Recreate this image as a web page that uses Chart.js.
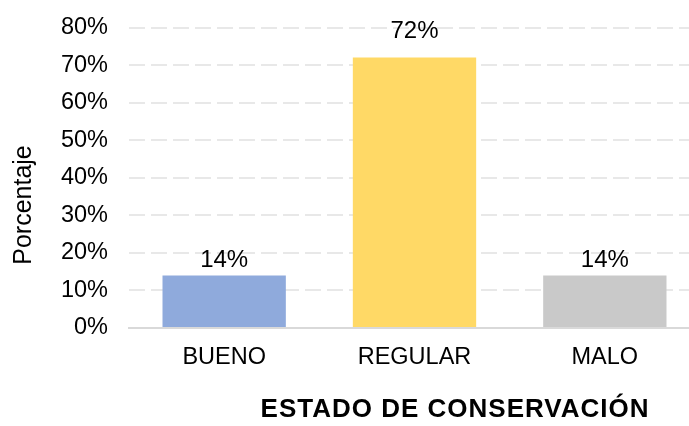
<!DOCTYPE html>
<html>
<head>
<meta charset="utf-8">
<script src="https://cdn.jsdelivr.net/npm/chart.js@4.4.1/dist/chart.umd.min.js"></script>
<style>
  html, body { margin: 0; padding: 0; background: #fff; overflow: hidden; }
  #wrap { width: 700px; height: 426px; position: relative; }
</style>
</head>
<body>
<div id="wrap"><canvas id="estadoChart"></canvas></div>
<script>
// Data
const categories = ["BUENO", "REGULAR", "MALO"]
const percentages = [14, 72, 14]
const barColors = ["#8FAADC", "#FFD966", "#C9C9C9"]
const yTicks = [0, 10, 20, 30, 40, 50, 60, 70, 80]

const yTitle = "Porcentaje"
const xTitle = "ESTADO DE CONSERVACIÓN"

const FONT = "Arial, 'Liberation Sans', sans-serif"

// Value labels above each bar and the two axis titles
const textPlugin = {
  id: "textPlugin",
  afterDatasetsDraw(chart) {
    const ctx = chart.ctx
    const meta = chart.getDatasetMeta(0)
    ctx.save()
    ctx.fillStyle = "#000"
    ctx.font = "24px " + FONT
    ctx.textAlign = "center"
    ctx.textBaseline = "alphabetic"
    meta.data.forEach((bar, i) => {
      // the tall bar's label sits a bit higher, like in the original
      const gap = percentages[i] > 50 ? 20 : 8
      ctx.fillText(percentages[i] + "%", bar.x, bar.y - gap)
    })
    ctx.restore()
  },
  afterDraw(chart) {
    const ctx = chart.ctx
    ctx.save()
    ctx.fillStyle = "#000"

    // y title, rotated
    ctx.font = "25px " + FONT
    ctx.textAlign = "center"
    ctx.textBaseline = "alphabetic"
    ctx.translate(31, 205)
    ctx.rotate(-Math.PI / 2)
    ctx.fillText(yTitle, 0, 0)
    ctx.setTransform(1, 0, 0, 1, 0, 0)

    // x title, bold
    ctx.font = "bold 26px " + FONT
    ctx.letterSpacing = "1px"
    ctx.textAlign = "center"
    ctx.fillText(xTitle, 455, 417)
    ctx.restore()
  },
}

const ctx = document.getElementById("estadoChart").getContext("2d")
new Chart(ctx, {
  type: "bar",
  data: {
    labels: categories,
    datasets: [
      {
        data: percentages,
        backgroundColor: barColors,
        borderWidth: 0,
        barPercentage: 0.648,
        categoryPercentage: 1,
      },
    ],
  },
  options: {
    responsive: true,
    maintainAspectRatio: false,
    animation: false,
    layout: {
      padding: { top: 27.5, right: 0, bottom: 0, left: 0 },
    },
    plugins: {
      legend: { display: false },
      tooltip: { enabled: false },
    },
    scales: {
      x: {
        grid: { display: false, drawTicks: false },
        border: { display: true, color: "#D9D9D9", width: 2 },
        ticks: {
          color: "#000",
          font: { family: FONT, size: 23.5 },
          padding: 15,
        },
        afterFit: (scale) => {
          scale.height = 98
          scale.paddingLeft = 0
          scale.paddingRight = 0
        },
      },
      y: {
        min: 0,
        max: 80,
        afterBuildTicks: (scale) => {
          scale.ticks = yTicks.map((v) => ({ value: v }))
        },
        grid: {
          color: (c) => (c.tick && c.tick.value === 0 ? "rgba(0,0,0,0)" : "#E8E8E8"),
          lineWidth: 2,
          drawTicks: false,
        },
        border: { display: false, dash: [16, 6] },
        ticks: {
          color: "#000",
          font: { family: FONT, size: 23.5 },
          padding: 21,
          callback: (value) => value + "%",
        },
        afterFit: (scale) => {
          scale.width = 129
          // keep the top label from pushing the plot down
          scale.paddingTop = 0
          scale.paddingBottom = 0
        },
      },
    },
  },
  plugins: [textPlugin],
})
</script>
</body>
</html>
